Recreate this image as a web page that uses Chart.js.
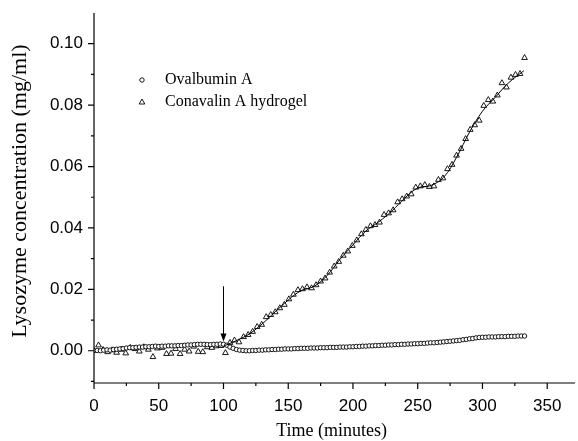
<!DOCTYPE html>
<html>
<head>
<meta charset="utf-8">
<title>Lysozyme</title>
<script src="https://cdn.jsdelivr.net/npm/chart.js@4/dist/chart.umd.min.js"></script>
<style>
    html, body { margin: 0; padding: 0; background: #fff; }
    #wrap { width: 578px; height: 441px; }
</style>
</head>
<body>
<div id="wrap"><canvas id="grafico" width="578" height="441"></canvas></div>
<script>
    // Ovalbumin A: uma leitura a cada 2.5 min
    const passoOvalbumina = 2.5;
    const ovalbumina = [
        0.0000, 0.0001, 0.0000, 0.0002, 0.0003, 0.0002, 0.0004, 0.0005, 0.0006, 0.0007,
        0.0009, 0.0010, 0.0010, 0.0011, 0.0012, 0.0012, 0.0013, 0.0013, 0.0014, 0.0015,
        0.0014, 0.0015, 0.0015, 0.0016, 0.0016, 0.0016, 0.0017, 0.0017, 0.0018, 0.0019,
        0.0019, 0.0020, 0.0021, 0.0021, 0.0021, 0.0020, 0.0020, 0.0021, 0.0021, 0.0022,
        0.0021, 0.0018, 0.0012, 0.0008, 0.0004, 0.0002, 0.0001, 0.0000, 0.0000, 0.0001,
        0.0001, 0.0002, 0.0002, 0.0003, 0.0003, 0.0004, 0.0004, 0.0005, 0.0005, 0.0006,
        0.0006, 0.0006, 0.0007, 0.0007, 0.0008, 0.0008, 0.0008, 0.0009, 0.0009, 0.0009,
        0.0010, 0.0010, 0.0010, 0.0011, 0.0011, 0.0011, 0.0012, 0.0012, 0.0012, 0.0013,
        0.0013, 0.0014, 0.0014, 0.0015, 0.0015, 0.0016, 0.0016, 0.0017, 0.0017, 0.0018,
        0.0018, 0.0019, 0.0019, 0.0020, 0.0020, 0.0021, 0.0021, 0.0022, 0.0022, 0.0023,
        0.0023, 0.0024, 0.0024, 0.0025, 0.0026, 0.0026, 0.0027, 0.0028, 0.0029, 0.0030,
        0.0031, 0.0032, 0.0033, 0.0034, 0.0036, 0.0037, 0.0039, 0.0040, 0.0042, 0.0043,
        0.0044, 0.0044, 0.0045, 0.0045, 0.0045, 0.0046, 0.0046, 0.0046, 0.0047, 0.0047,
        0.0047, 0.0048, 0.0048, 0.0048
    ];

    // Conavalin A hydrogel: uma leitura a cada 3.5 min
    const passoConavalina = 3.5;
    const conavalina = [
        0.0000, 0.0018, 0.0003, -0.0004, 0.0002, -0.0006, 0.0004, -0.0008, 0.0010, 0.0006,
        -0.0002, 0.0012, 0.0004, -0.0020, 0.0008, 0.0010, -0.0010, -0.0009, 0.0006, -0.0010,
        0.0004, -0.0002, 0.0014, -0.0003, -0.0004, 0.0012, 0.0010, 0.0015, 0.0016, -0.0007,
        0.0026, 0.0034, 0.0028, 0.0045, 0.0052, 0.0062, 0.0078, 0.0085, 0.0110, 0.0117,
        0.0126, 0.0139, 0.0150, 0.0168, 0.0183, 0.0198, 0.0201, 0.0207, 0.0204, 0.0214,
        0.0226, 0.0236, 0.0255, 0.0275, 0.0290, 0.0310, 0.0324, 0.0342, 0.0360, 0.0380,
        0.0394, 0.0406, 0.0410, 0.0418, 0.0443, 0.0448, 0.0458, 0.0484, 0.0494, 0.0503,
        0.0510, 0.0532, 0.0536, 0.0540, 0.0534, 0.0536, 0.0557, 0.0562, 0.0592, 0.0606,
        0.0636, 0.0658, 0.0690, 0.0720, 0.0735, 0.0750, 0.0798, 0.0817, 0.0812, 0.0832,
        0.0872, 0.0858, 0.0890, 0.0899, 0.0902, 0.0954
    ];

    // Curva ajustada da liberacao (a partir da adicao em 100 min)
    const tempoAjuste = [100, 110, 120, 130, 140, 150, 160, 170, 180, 190, 200, 210,
                         220, 230, 240, 250, 260, 270, 280, 290, 300, 310, 320, 332];
    const ajuste = [0.0015, 0.0033, 0.0055, 0.0088, 0.0127, 0.0165, 0.0196, 0.0210,
                    0.0245, 0.0298, 0.0345, 0.0390, 0.0420, 0.0455, 0.0497, 0.0530,
                    0.0538, 0.0565, 0.0630, 0.0712, 0.0780, 0.0826, 0.0872, 0.0912];

    // Marcacoes dos eixos
    const ticksX = [0, 25, 50, 75, 100, 125, 150, 175, 200, 225, 250, 275, 300, 325, 350];
    const ticksY = [-0.01, 0, 0.01, 0.02, 0.03, 0.04, 0.05, 0.06, 0.07, 0.08, 0.09, 0.10];

    // Seta que marca a adicao
    const setaTempo = 100;
    const setaInicio = 0.021;
    const setaFim = 0.003;

    const legendas = ['Ovalbumin A', 'Conavalin A hydrogel'];

    const serif = '"Liberation Serif", "Times New Roman", serif';
    const sans = '"Liberation Sans", Arial, sans-serif';

    const pontosOval = ovalbumina.map((v, i) => ({ x: i * passoOvalbumina, y: v }));
    const pontosCona = conavalina.map((v, i) => ({ x: i * passoConavalina, y: v }));
    const pontosAjuste = ajuste.map((v, i) => ({ x: tempoAjuste[i], y: v }));

    // Eixos, marcacoes, titulos, legenda e seta
    const extrasPlugin = {
        id: 'extras',
        afterDatasetsDraw(chart) {
            const ctx = chart.ctx;
            const { left, right, top, bottom } = chart.chartArea;
            const sx = chart.scales.x;
            const sy = chart.scales.y;
            ctx.save();
            ctx.strokeStyle = '#000';
            ctx.fillStyle = '#000';
            ctx.lineWidth = 1.2;
            ctx.beginPath();
            ctx.moveTo(left, top);
            ctx.lineTo(left, bottom);
            ctx.moveTo(left, bottom);
            ctx.lineTo(right + 2, bottom);
            ticksX.forEach(v => {
                const px = sx.getPixelForValue(v);
                const len = v % 50 === 0 ? 6 : 3;
                ctx.moveTo(px, bottom);
                ctx.lineTo(px, bottom + len);
            });
            ticksY.forEach(v => {
                const py = sy.getPixelForValue(v);
                const len = Math.round(v * 100) % 2 === 0 ? 6 : 3;
                ctx.moveTo(left, py);
                ctx.lineTo(left - len, py);
            });
            ctx.stroke();

            // seta
            const ax = sx.getPixelForValue(setaTempo);
            const ay1 = sy.getPixelForValue(setaInicio);
            const ay2 = sy.getPixelForValue(setaFim);
            ctx.lineWidth = 1;
            ctx.beginPath();
            ctx.moveTo(ax, ay1);
            ctx.lineTo(ax, ay2 - 6);
            ctx.stroke();
            ctx.beginPath();
            ctx.moveTo(ax - 3, ay2 - 8);
            ctx.lineTo(ax + 3, ay2 - 8);
            ctx.lineTo(ax, ay2);
            ctx.closePath();
            ctx.fill();

            // titulos
            ctx.font = '18px ' + serif;
            ctx.textAlign = 'center';
            ctx.textBaseline = 'middle';
            ctx.fillText('Time (minutes)', (left + right) / 2 - 2, 431);
            ctx.save();
            ctx.translate(20, 191);
            ctx.rotate(-Math.PI / 2);
            ctx.font = '22px ' + serif;
            ctx.fillText('Lysozyme concentration (mg/ml)', 0, 0);
            ctx.restore();

            // legenda
            ctx.lineWidth = 0.9;
            ctx.fillStyle = '#fff';
            ctx.beginPath();
            ctx.arc(142, 80, 2.2, 0, Math.PI * 2);
            ctx.fill();
            ctx.stroke();
            ctx.beginPath();
            ctx.moveTo(142, 99);
            ctx.lineTo(144.8, 104);
            ctx.lineTo(139.2, 104);
            ctx.closePath();
            ctx.fill();
            ctx.stroke();
            ctx.fillStyle = '#000';
            ctx.font = '16px ' + serif;
            ctx.textAlign = 'left';
            ctx.fillText(legendas[0], 165, 80);
            ctx.fillText(legendas[1], 165, 102);
            ctx.restore();
        }
    };

    new Chart(document.getElementById('grafico'), {
        type: 'scatter',
        data: {
            datasets: [
                {
                    label: 'ajuste',
                    data: pontosAjuste,
                    showLine: true,
                    borderColor: '#000',
                    borderWidth: 1,
                    pointRadius: 0,
                    tension: 0.4
                },
                {
                    label: legendas[0],
                    data: pontosOval,
                    pointStyle: 'circle',
                    pointRadius: 2.2,
                    borderColor: '#000',
                    borderWidth: 0.9,
                    backgroundColor: '#fff'
                },
                {
                    label: legendas[1],
                    data: pontosCona,
                    pointStyle: 'triangle',
                    pointRadius: 3.3,
                    borderColor: '#000',
                    borderWidth: 0.9,
                    backgroundColor: '#fff'
                }
            ]
        },
        options: {
            responsive: false,
            animation: false,
            devicePixelRatio: 1,
            layout: { padding: { top: 13, right: 1, left: 0, bottom: 0 } },
            plugins: { legend: { display: false }, tooltip: { enabled: false } },
            scales: {
                x: {
                    type: 'linear',
                    min: 0,
                    max: 370,
                    grid: { display: false, drawTicks: false },
                    border: { display: false },
                    afterBuildTicks: s => { s.ticks = ticksX.map(v => ({ value: v })); },
                    afterFit: s => { s.height = 58; s.paddingLeft = 0; s.paddingRight = 0; },
                    ticks: {
                        autoSkip: false,
                        maxRotation: 0,
                        padding: 13,
                        color: '#000',
                        font: { family: sans, size: 17 },
                        callback: v => (v % 50 === 0 ? String(v) : '')
                    }
                },
                y: {
                    min: -0.0105,
                    max: 0.11,
                    grid: { display: false, drawTicks: false },
                    border: { display: false },
                    afterBuildTicks: s => { s.ticks = ticksY.map(v => ({ value: v })); },
                    afterFit: s => { s.width = 94; s.paddingTop = 0; s.paddingBottom = 0; },
                    ticks: {
                        autoSkip: false,
                        padding: 11,
                        color: '#000',
                        font: { family: sans, size: 17 },
                        callback: v => (Math.round(v * 100) % 2 === 0 ? v.toFixed(2) : '')
                    }
                }
            }
        },
        plugins: [extrasPlugin]
    });
</script>
</body>
</html>
